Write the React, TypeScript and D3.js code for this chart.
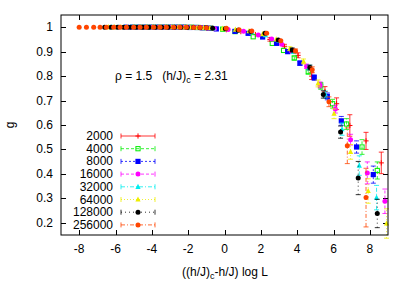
import * as d3 from 'd3'

// system sizes shown in the key
const sizes = ['2000', '4000', '8000', '16000', '32000', '64000', '128000', '256000']
const colors = ['#ff0000', '#00ee00', '#0000ff', '#ff00ff', '#00eeee', '#eeee00', '#000000', '#ff4500']
const dashes = ['none', '3,2', '2,2', '3,2', '4,2,1,2', '1,2', '1,3', '4,2,1,2']
const markers = ['plus', 'openSquare', 'square', 'circle', 'triangle', 'triangle', 'circle', 'circle']

const xTicks = [-8, -6, -4, -2, 0, 2, 4, 6, 8]
const yTicks = [0.2, 0.3, 0.4, 0.5, 0.6, 0.7, 0.8, 0.9, 1]

// [x, g, error]
const d2000 = [
  [-4.5, 1, 0.001], [-4.15, 1, 0.001], [-3.8, 1, 0.001], [-3.45, 1, 0.001], [-3.1, 1, 0.001],
  [-2.75, 1, 0.001], [-2.4, 1, 0.001], [-2.05, 1, 0.001], [-1.7, 1, 0.001], [-1.35, 0.999, 0.001],
  [-1.0, 0.998, 0.001], [-0.65, 0.996, 0.002], [0.1, 0.99, 0.003], [0.9, 0.982, 0.004],
  [1.7, 0.97, 0.005], [2.5, 0.95, 0.007], [3.3, 0.922, 0.008], [4.05, 0.885, 0.01],
  [4.8, 0.8, 0.014], [5.53, 0.737, 0.02], [6.17, 0.687, 0.024], [6.9, 0.598, 0.044],
  [7.79, 0.535, 0.035], [8.63, 0.445, 0.044],
]
const d4000 = [
  [-5.0, 1, 0.001], [-4.65, 1, 0.001], [-4.3, 1, 0.001], [-3.95, 1, 0.001], [-3.6, 1, 0.001],
  [-3.25, 1, 0.001], [-2.9, 1, 0.001], [-2.55, 1, 0.001], [-2.2, 1, 0.001], [-1.85, 1, 0.001],
  [-1.5, 0.999, 0.001], [-1.15, 0.998, 0.001], [-0.8, 0.996, 0.002], [-0.1, 0.992, 0.002],
  [0.58, 0.982, 0.003], [1.58, 0.961, 0.004], [2.63, 0.934, 0.005], [3.25, 0.905, 0.006],
  [3.84, 0.874, 0.008], [4.61, 0.818, 0.01], [5.3, 0.76, 0.014], [5.95, 0.687, 0.018],
  [6.72, 0.604, 0.022], [7.57, 0.51, 0.03], [8.41, 0.414, 0.035],
]
const d8000 = [
  [-5.4, 1, 0.001], [-5.05, 1, 0.001], [-4.7, 1, 0.001], [-4.35, 1, 0.001], [-4.0, 1, 0.001],
  [-3.65, 1, 0.001], [-3.3, 1, 0.001], [-2.95, 1, 0.001], [-2.6, 1, 0.001], [-2.25, 1, 0.001],
  [-1.9, 0.999, 0.001], [-1.55, 0.999, 0.001], [-1.2, 0.998, 0.001], [-0.85, 0.996, 0.002],
  [-0.45, 0.993, 0.002], [0.58, 0.983, 0.003], [1.3, 0.975, 0.004], [2.1, 0.96, 0.005],
  [2.87, 0.934, 0.006], [3.48, 0.9, 0.007], [4.15, 0.853, 0.009], [4.94, 0.794, 0.011],
  [5.66, 0.717, 0.014], [6.43, 0.617, 0.018], [7.27, 0.51, 0.025], [8.19, 0.397, 0.035],
]
const d16000 = [
  [-5.8, 1, 0.001], [-5.45, 1, 0.001], [-5.1, 1, 0.001], [-4.75, 1, 0.001], [-4.4, 1, 0.001],
  [-4.05, 1, 0.001], [-3.7, 1, 0.001], [-3.35, 1, 0.001], [-3.0, 1, 0.001], [-2.65, 1, 0.001],
  [-2.3, 1, 0.001], [-1.95, 0.999, 0.001], [-1.6, 0.999, 0.001], [-1.25, 0.998, 0.001],
  [-0.9, 0.997, 0.002], [-0.55, 0.994, 0.002], [0.2, 0.991, 0.003], [1.05, 0.984, 0.003],
  [1.86, 0.968, 0.004], [2.6, 0.952, 0.005], [3.15, 0.93, 0.006], [3.7, 0.903, 0.007],
  [4.52, 0.84, 0.009], [5.26, 0.764, 0.012], [6.1, 0.665, 0.016], [6.94, 0.54, 0.022],
  [7.86, 0.404, 0.045], [8.83, 0.288, 0.05],
]
const d32000 = [
  [-6.2, 1, 0.001], [-5.85, 1, 0.001], [-5.5, 1, 0.001], [-5.15, 1, 0.001], [-4.8, 1, 0.001],
  [-4.45, 1, 0.001], [-4.1, 1, 0.001], [-3.75, 1, 0.001], [-3.4, 1, 0.001], [-3.05, 1, 0.001],
  [-2.7, 1, 0.001], [-2.35, 1, 0.001], [-2.0, 0.999, 0.001], [-1.65, 0.999, 0.001],
  [-1.3, 0.998, 0.001], [-0.95, 0.997, 0.002], [-0.6, 0.995, 0.002], [0.05, 0.993, 0.003],
  [0.75, 0.988, 0.003], [1.5, 0.98, 0.004], [2.25, 0.968, 0.005], [3.0, 0.945, 0.006],
  [3.8, 0.9, 0.008], [4.65, 0.835, 0.01], [5.55, 0.725, 0.014], [6.47, 0.583, 0.025],
  [7.42, 0.434, 0.04], [8.37, 0.303, 0.05],
]
const d64000 = [
  [-6.4, 1, 0.001], [-6.05, 1, 0.001], [-5.7, 1, 0.001], [-5.35, 1, 0.001], [-5.0, 1, 0.001],
  [-4.65, 1, 0.001], [-4.3, 1, 0.001], [-3.95, 1, 0.001], [-3.6, 1, 0.001], [-3.25, 1, 0.001],
  [-2.9, 1, 0.001], [-2.55, 1, 0.001], [-2.2, 0.999, 0.001], [-1.85, 0.999, 0.001],
  [-1.5, 0.998, 0.001], [-1.15, 0.998, 0.002], [-0.8, 0.996, 0.002], [-0.1, 0.994, 0.003],
  [0.6, 0.99, 0.003], [1.35, 0.984, 0.004], [2.1, 0.972, 0.005], [2.85, 0.95, 0.006],
  [3.6, 0.912, 0.008], [4.35, 0.86, 0.01], [5.15, 0.77, 0.014], [6.03, 0.646, 0.02],
  [6.94, 0.49, 0.03], [7.91, 0.33, 0.05], [8.92, 0.197, 0.06],
]
const d128000 = [
  [-6.6, 1, 0.001], [-6.25, 1, 0.001], [-5.9, 1, 0.001], [-5.55, 1, 0.001], [-5.2, 1, 0.001],
  [-4.85, 1, 0.001], [-4.5, 1, 0.001], [-4.15, 1, 0.001], [-3.8, 1, 0.001], [-3.45, 1, 0.001],
  [-3.1, 1, 0.001], [-2.75, 1, 0.001], [-2.4, 1, 0.001], [-2.05, 0.999, 0.001],
  [-1.7, 0.999, 0.001], [-1.35, 0.998, 0.001], [-1.0, 0.998, 0.002], [-0.65, 0.996, 0.002],
  [0.05, 0.994, 0.003], [0.75, 0.988, 0.003], [1.45, 0.983, 0.004], [2.23, 0.975, 0.005],
  [2.96, 0.948, 0.006], [3.73, 0.907, 0.008], [4.7, 0.835, 0.01], [5.44, 0.725, 0.015],
  [6.39, 0.571, 0.025], [7.36, 0.383, 0.068], [8.41, 0.238, 0.058],
]
const d256000 = [
  [-8.0, 1, 0.001], [-7.6, 1, 0.001], [-7.2, 1, 0.001], [-6.85, 1, 0.001], [-6.5, 1, 0.001],
  [-6.1, 1, 0.001], [-5.75, 1, 0.001], [-5.4, 1, 0.001], [-5.0, 1, 0.001], [-4.65, 1, 0.001],
  [-4.3, 1, 0.001], [-3.9, 1, 0.001], [-3.55, 1, 0.001], [-3.2, 1, 0.001], [-2.8, 1, 0.001],
  [-2.45, 1, 0.001], [-2.1, 1, 0.001], [-1.7, 0.999, 0.001], [-1.35, 0.999, 0.001],
  [-1.0, 0.998, 0.002], [0.1, 0.996, 0.002], [0.8, 0.99, 0.003], [1.5, 0.985, 0.003],
  [2.32, 0.975, 0.004], [3.1, 0.945, 0.006], [3.91, 0.903, 0.008], [4.83, 0.826, 0.012],
  [5.75, 0.695, 0.02], [6.76, 0.515, 0.073], [7.79, 0.303, 0.12],
]
const allSeries = [d2000, d4000, d8000, d16000, d32000, d64000, d128000, d256000]

const W = 411
const H = 288
const left = 61
const right = 388
const top = 15
const bottom = 235
const font = '"Liberation Sans", Arial, sans-serif'

function Marker({ kind, x, y, color }: { kind: string; x: number; y: number; color: string }) {
  const s = 2.6
  if (kind === 'plus')
    return (
      <g stroke={color} strokeWidth={1}>
        <line x1={x - s} x2={x + s} y1={y} y2={y} />
        <line x1={x} x2={x} y1={y - s} y2={y + s} />
      </g>
    )
  if (kind === 'openSquare')
    return <rect x={x - s + 0.5} y={y - s + 0.5} width={2 * s - 1} height={2 * s - 1} fill="none" stroke={color} strokeWidth={1} />
  if (kind === 'square') return <rect x={x - s} y={y - s} width={2 * s} height={2 * s} fill={color} />
  if (kind === 'triangle')
    return <path d={`M${x},${y - s - 0.5}L${x + s},${y + s - 0.5}L${x - s},${y + s - 0.5}Z`} fill={color} />
  return <circle cx={x} cy={y} r={2.5} fill={color} />
}

export default function App() {
  const x = d3.scaleLinear().domain([-9, 9]).range([left, right])
  const y = d3.scaleLinear().domain([0.15, 1.05]).range([bottom, top])
  const cap = 2.5
  const legendX = 113
  const legendY0 = 136
  const legendStep = 12.7

  return (
    <div style={{ position: 'fixed', left: 0, top: 0 }}>
      <svg width={W} height={H} style={{ display: 'block', background: '#fff' }} fontFamily={font}>
        {/* ticks, mirrored on all sides */}
        <g stroke="#000" strokeWidth={1}>
          {xTicks.map((t) => (
            <g key={'xt' + t}>
              <line x1={Math.round(x(t)) + 0.5} x2={Math.round(x(t)) + 0.5} y1={bottom} y2={bottom - 5} />
              <line x1={Math.round(x(t)) + 0.5} x2={Math.round(x(t)) + 0.5} y1={top} y2={top + 5} />
            </g>
          ))}
          {yTicks.map((t) => (
            <g key={'yt' + t}>
              <line x1={left} x2={left + 5} y1={Math.round(y(t)) + 0.5} y2={Math.round(y(t)) + 0.5} />
              <line x1={right} x2={right - 5} y1={Math.round(y(t)) + 0.5} y2={Math.round(y(t)) + 0.5} />
            </g>
          ))}
        </g>
        <g fontSize={12} fill="#000">
          {xTicks.map((t) => (
            <text key={'xl' + t} x={x(t)} y={253} textAnchor="middle">
              {t}
            </text>
          ))}
          {yTicks.map((t) => (
            <text key={'yl' + t} x={53} y={y(t) + 4} textAnchor="end">
              {t}
            </text>
          ))}
        </g>

        {/* data with error bars */}
        {allSeries.map((pts, i) => (
          <g key={sizes[i]}>
            <g stroke={colors[i]} strokeWidth={0.8} strokeDasharray={dashes[i]} fill="none">
              {pts.map(([px, g, e], j) => {
                const cx = x(px)
                const y1 = y(g - e)
                const y2 = y(g + e)
                if (y1 - y2 < 3) return null
                return (
                  <g key={j}>
                    <line x1={cx} x2={cx} y1={y1} y2={y2} />
                    <line x1={cx - cap} x2={cx + cap} y1={y1} y2={y1} strokeDasharray="none" />
                    <line x1={cx - cap} x2={cx + cap} y1={y2} y2={y2} strokeDasharray="none" />
                  </g>
                )
              })}
            </g>
            {pts.map(([px, g], j) => (
              <Marker key={j} kind={markers[i]} x={x(px)} y={y(g)} color={colors[i]} />
            ))}
          </g>
        ))}

        {/* key */}
        {sizes.map((s, i) => {
          const ly = legendY0 + i * legendStep
          return (
            <g key={'lg' + s}>
              <text x={legendX} y={ly + 4} textAnchor="end" fontSize={12}>
                {s}
              </text>
              <g stroke={colors[i]} strokeWidth={0.8}>
                <line x1={121} x2={155} y1={ly} y2={ly} strokeDasharray={dashes[i]} />
                <line x1={121} x2={121} y1={ly - 2.5} y2={ly + 2.5} />
                <line x1={155} x2={155} y1={ly - 2.5} y2={ly + 2.5} />
              </g>
              <Marker kind={markers[i]} x={138} y={ly} color={colors[i]} />
            </g>
          )
        })}

        <text x={115} y={80} fontSize={12}>
          ρ = 1.5{'\u00a0\u00a0\u00a0'}(h/J)
          <tspan fontSize={9} dy={3}>c</tspan>
          <tspan dy={-3}>{' = 2.31'}</tspan>
        </text>

        <rect x={left} y={top} width={right - left} height={bottom - top} fill="none" stroke="#000" strokeWidth={1} />

        <text x={225} y={276} textAnchor="middle" fontSize={12}>
          ((h/J)
          <tspan fontSize={9} dy={3}>c</tspan>
          <tspan dy={-3}>-h/J) log L</tspan>
        </text>
        <text transform="translate(14,125) rotate(-90)" textAnchor="middle" fontSize={12}>
          g
        </text>
      </svg>
    </div>
  )
}
